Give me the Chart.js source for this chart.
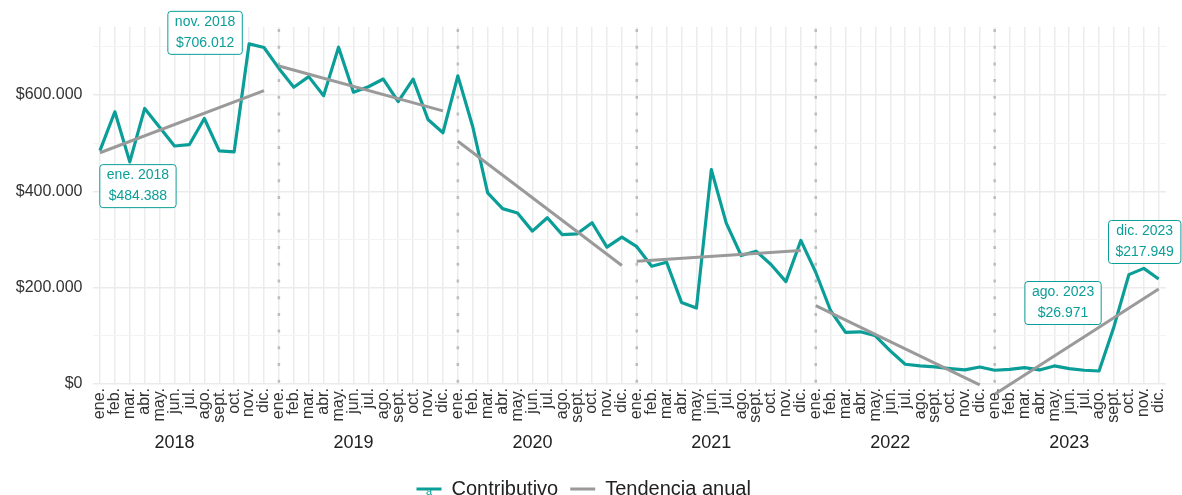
<!DOCTYPE html>
<html>
<head>
<meta charset="utf-8">
<script src="https://cdn.jsdelivr.net/npm/chart.js@4.4.1/dist/chart.umd.min.js"></script>
<style>
  html, body { margin: 0; padding: 0; background: #ffffff; overflow: hidden; }
  #wrap { width: 1182px; height: 495px; overflow: hidden; }
</style>
</head>
<body>
<div id="wrap"><canvas id="c" width="1182" height="509"></canvas></div>
<script>
// ---- Data ----
const months = ['ene.', 'feb.', 'mar.', 'abr.', 'may.', 'jun.', 'jul.', 'ago.', 'sept.', 'oct.', 'nov.', 'dic.'];
const years = [2018, 2019, 2020, 2021, 2022, 2023];

const contributivo2018 = [484388, 565000, 461000, 572000, 533000, 494000, 497000, 551000, 484000, 482000, 706012, 698500];
const contributivo2019 = [655000, 616000, 638000, 598500, 699000, 605600, 617000, 633000, 586000, 632700, 549000, 521500];
const contributivo2020 = [639600, 534000, 396500, 364000, 355000, 317300, 345000, 310000, 311800, 334700, 284000, 305000];
const contributivo2021 = [285000, 244400, 252800, 169400, 157600, 445000, 334000, 266700, 275700, 248000, 212500, 298000];
const contributivo2022 = [232000, 152000, 107000, 108300, 100000, 68800, 41000, 37500, 35400, 32000, 29200, 35400];
const contributivo2023 = [28500, 30500, 34000, 29200, 37500, 32000, 28500, 26971, 119000, 227000, 240000, 217949];

// Annual trend line: value at ene. and at dic. of each year
const trendStart = [480000, 660000, 504000, 255000, 162500, -21500];
const trendEnd = [609000, 567000, 246000, 277000, -2000, 197000];

// Y grid ticks and the ones that carry a label
const yTicks = [0, 100000, 200000, 300000, 400000, 500000, 600000, 700000];
const yLabelStep = 200000;

// Highlighted points (index in the monthly series)
const highlighted = [0, 10, 67, 71];

// ---- Build tables ----
const categories = [];
years.forEach(y => months.forEach(m => categories.push(m)));
const contributivo = [].concat(contributivo2018, contributivo2019, contributivo2020,
                               contributivo2021, contributivo2022, contributivo2023);

const TEAL = '#0b9e98';
const GRAY = '#9a9a9a';
const FONT = '"Liberation Sans", Arial, Helvetica, sans-serif';

function fmt(v) {
  return '$' + String(Math.round(v)).replace(/\B(?=(\d{3})+(?!\d))/g, '.');
}
function isMajor(v) {
  return Math.round(v) % yLabelStep === 0;
}

const trendDatasets = years.map((y, i) => {
  const arr = new Array(categories.length).fill(null);
  arr[i * 12] = trendStart[i];
  arr[i * 12 + 11] = trendEnd[i];
  return {
    label: 'Tendencia anual',
    data: arr,
    borderColor: GRAY,
    backgroundColor: GRAY,
    borderWidth: 3,
    pointRadius: 0,
    pointHoverRadius: 0,
    spanGaps: true,
    tension: 0,
    clip: false,
    order: 1
  };
});

// label placement offsets (layout only)
const labelOffsets = { 0: [38, 35.5], 10: [-44, -11], 67: [-36, -68], 71: [-14, -37] };

const overlay = {
  id: 'overlay',
  beforeDatasetsDraw(chart) {
    const xs = chart.scales.x, area = chart.chartArea, ctx = chart.ctx;
    ctx.save();
    ctx.strokeStyle = '#bdbdbd';
    ctx.lineWidth = 2.5;
    ctx.setLineDash([3, 13.7]);
    for (let i = 1; i < years.length; i++) {
      const x = xs.getPixelForValue(i * 12);
      ctx.beginPath();
      ctx.moveTo(x, area.top + 2);
      ctx.lineTo(x, area.bottom);
      ctx.stroke();
    }
    ctx.restore();
  },
  afterDatasetsDraw(chart) {
    const xs = chart.scales.x, ys = chart.scales.y, ctx = chart.ctx;
    ctx.save();
    ctx.font = '14px ' + FONT;
    highlighted.forEach(idx => {
      const px = xs.getPixelForValue(idx);
      const py = ys.getPixelForValue(contributivo[idx]);
      const off = labelOffsets[idx];
      const cx = px + off[0], cy = py + off[1];
      const line1 = months[idx % 12] + ' ' + years[Math.floor(idx / 12)];
      const line2 = fmt(contributivo[idx]);
      const w = Math.max(ctx.measureText(line1).width, ctx.measureText(line2).width) + 14;
      const h = 43;
      const x0 = cx - w / 2, y0 = cy - h / 2;
      ctx.beginPath();
      ctx.roundRect(x0, y0, w, h, 3);
      ctx.fillStyle = 'rgba(255,255,255,0.95)';
      ctx.fill();
      ctx.strokeStyle = TEAL;
      ctx.lineWidth = 1;
      ctx.stroke();
      ctx.fillStyle = TEAL;
      ctx.textAlign = 'center';
      ctx.textBaseline = 'middle';
      ctx.fillText(line1, cx, cy - 10.5);
      ctx.fillText(line2, cx, cy + 10.5);
    });
    ctx.restore();
  },
  afterDraw(chart) {
    const xs = chart.scales.x, ctx = chart.ctx;
    ctx.save();
    ctx.font = '18px ' + FONT;
    ctx.fillStyle = '#222222';
    ctx.textAlign = 'center';
    ctx.textBaseline = 'middle';
    years.forEach((y, i) => {
      ctx.fillText(String(y), xs.getPixelForValue(i * 12 + 5), 443);
    });
    // small "a" glyph on the Contributivo legend key
    const lg = chart.legend;
    if (lg && lg.legendHitBoxes && lg.legendHitBoxes[0]) {
      const hb = lg.legendHitBoxes[0];
      ctx.font = '11px ' + FONT;
      ctx.fillStyle = TEAL;
      ctx.fillText('a', hb.left + 12.5, hb.top + hb.height / 2 + 3);
    }
    ctx.restore();
  }
};

new Chart(document.getElementById('c'), {
  type: 'line',
  data: {
    labels: categories,
    datasets: [
      {
        label: 'Contributivo',
        data: contributivo,
        borderColor: TEAL,
        backgroundColor: TEAL,
        borderWidth: 3.2,
        pointRadius: 0,
        pointHoverRadius: 0,
        tension: 0,
        borderJoinStyle: 'round',
        order: 2
      }
    ].concat(trendDatasets)
  },
  options: {
    responsive: false,
    devicePixelRatio: 1,
    animation: false,
    layout: { padding: { top: 27, right: 14.6, left: 0, bottom: 0 } },
    plugins: {
      tooltip: { enabled: false },
      legend: {
        position: 'bottom',
        labels: {
          font: { size: 20, family: FONT },
          color: '#222222',
          boxWidth: 25,
          boxHeight: 3,
          padding: 12,
          filter: item => item.datasetIndex <= 1,
          sort: (a, b) => a.datasetIndex - b.datasetIndex,
          generateLabels: chart => {
            const items = Chart.defaults.plugins.legend.labels.generateLabels(chart);
            return items.map(it => Object.assign(it, { fillStyle: it.strokeStyle, lineWidth: 0 }));
          }
        }
      }
    },
    scales: {
      x: {
        type: 'category',
        offset: true,
        border: { display: false },
        grid: { color: '#ececec', lineWidth: 1.5, drawTicks: false },
        ticks: {
          autoSkip: false,
          minRotation: 90,
          maxRotation: 90,
          padding: 4,
          color: '#333333',
          font: { size: 16, family: FONT }
        },
        afterFit: s => { s.height = 83; }
      },
      y: {
        min: 0,
        max: 741000,
        border: { display: false },
        grid: {
          drawTicks: false,
          color: ctx => (ctx.tick && isMajor(ctx.tick.value)) ? '#ebebeb' : '#f3f3f3',
          lineWidth: ctx => (ctx.tick && isMajor(ctx.tick.value)) ? 1.5 : 1
        },
        afterBuildTicks: s => { s.ticks = yTicks.map(v => ({ value: v })); },
        ticks: {
          autoSkip: false,
          padding: 10,
          color: '#333333',
          font: { size: 16, family: FONT },
          callback: v => (isMajor(v) ? fmt(v) : '')
        },
        afterFit: s => { s.width = 92.5; }
      }
    }
  },
  plugins: [overlay]
});
</script>
</body>
</html>
